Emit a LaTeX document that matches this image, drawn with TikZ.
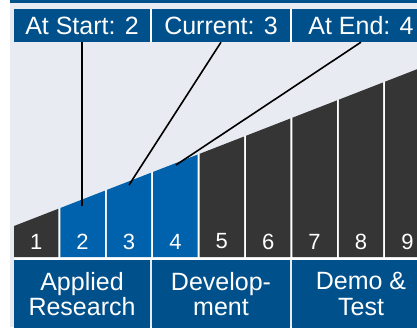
\documentclass[tikz,border=0pt]{standalone}
\usepackage{fontspec}
\setmainfont{Liberation Sans}
\usepackage{tikz}
\definecolor{trlnavy}{HTML}{00508C}
\definecolor{trlblue}{HTML}{0061AC}
\definecolor{trldark}{HTML}{353535}
\definecolor{trlback}{HTML}{E9EBF3}

\begin{document}
\begin{tikzpicture}[x=1pt,y=-1pt,
  hdbox/.style={fill=trlnavy,text=white,minimum width=138pt,minimum height=33pt,
    inner sep=0pt,font=\fontsize{25}{25}\selectfont},
  phasebox/.style={fill=trlnavy,text=white,minimum width=138pt,minimum height=68pt,
    inner sep=0pt,align=center,font=\fontsize{25}{25.5}\selectfont},
  numlbl/.style={text=white,inner sep=0pt,font=\fontsize{22}{22}\selectfont},
  pointer/.style={draw=black,line width=1.6pt}]
  \useasboundingbox (0,0) rectangle (417,327);
  \clip (0,0) rectangle (417,327);
  \fill[trlback] (10,0) rectangle (417,327);
  \fill[trlnavy] (10,0) rectangle (417,3);
  \fill[white] (150,9) rectangle (152,42) (290,9) rectangle (292,42);
  \node[hdbox,minimum width=136pt] (start) at (82,25.5) {At Start: 2};
  \node[hdbox] (current) at (221,25.5) {Current: 3};
  \node[hdbox] (end) at (361,25.5) {At End: 4};
  \fill[white] (14,260) -- (14,226) -- (417,{226-0.389*403}) -- (417,260) -- cycle;
  \foreach \i in {1,...,9}{
    \pgfmathsetmacro\xl{14+(\i-1)*46.4}
    \pgfmathsetmacro\xr{\xl+44.4}
    \pgfmathsetmacro\yl{226-0.389*(\xl-14)}
    \pgfmathsetmacro\yr{226-0.389*(\xr-14)}
    \ifnum\i>1 \ifnum\i<5 \def\barcol{trlblue}\else \def\barcol{trldark}\fi
    \else \def\barcol{trldark}\fi
    \fill[\barcol] (\xl,257) -- (\xl,\yl) -- (\xr,\yr) -- (\xr,257) -- cycle;
    \node[numlbl] (n\i) at ({(\xl+\xr)/2},241.5) {\i};
  }
  \node[phasebox,minimum width=136pt] (applied) at (82,294) {Applied\\Research};
  \node[phasebox] (develop) at (221,294) {Develop-\\ment};
  \node[phasebox] (demo) at (361,294) {Demo \&\\Test};
  \coordinate (p2) at (82,206);
  \coordinate (p3) at (129,185);
  \coordinate (p4) at (176,165);
  \draw[pointer] (start.south) -- (p2);
  \draw[pointer] (current.south) -- (p3);
  \draw[pointer] (end.south) -- (p4);
\end{tikzpicture}
\end{document}
